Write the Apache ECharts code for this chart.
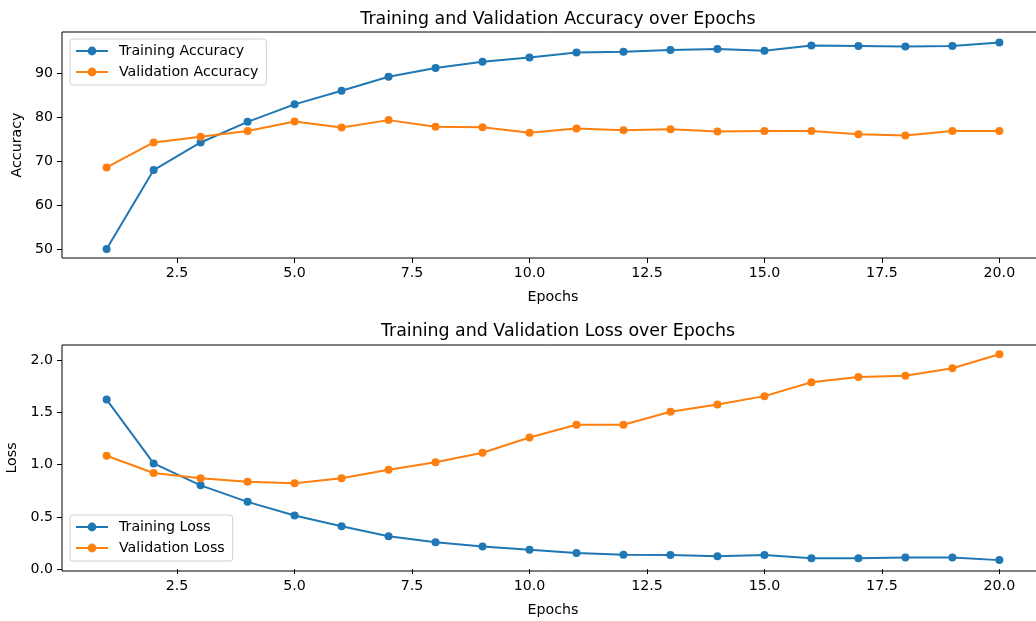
<!DOCTYPE html>
<html>
<head>
<meta charset="utf-8">
<script src="https://cdn.jsdelivr.net/npm/echarts@6/dist/echarts.min.js"></script>
<style>
html,body{margin:0;padding:0;background:#fff;}
#chart{width:1036px;height:621px;}
</style>
</head>
<body>
<div id="chart"></div>
<script>
const epochs = [1,2,3,4,5,6,7,8,9,10,11,12,13,14,15,16,17,18,19,20];
const trainAcc = [50.0,68.0,74.3,79.0,83.0,86.1,89.3,91.3,92.7,93.7,94.8,95.0,95.4,95.6,95.2,96.4,96.3,96.2,96.3,97.1];
const valAcc = [68.6,74.3,75.6,76.9,79.1,77.7,79.4,77.9,77.8,76.5,77.5,77.1,77.3,76.8,76.9,76.9,76.2,75.9,76.9,76.9];
const trainLoss = [1.621,1.011,0.801,0.643,0.512,0.410,0.315,0.258,0.216,0.185,0.153,0.137,0.134,0.124,0.135,0.105,0.105,0.112,0.112,0.086];
const valLoss = [1.084,0.919,0.868,0.836,0.820,0.868,0.951,1.021,1.113,1.259,1.380,1.380,1.504,1.574,1.654,1.787,1.838,1.850,1.921,2.054];
const xTicks = [2.5,5.0,7.5,10.0,12.5,15.0,17.5,20.0];
const accTicks = [50,60,70,80,90];
const lossTicks = [0.0,0.5,1.0,1.5,2.0];

const FONT = 'DejaVu Sans';
const FS = 14.2, TFS = 17.4;
const BLUE = '#1f77b4', ORANGE = '#ff7f0e';
const pairs = (ys) => epochs.map((e,i)=>[e, ys[i]]);

function xAxis(gi){
  return {
    type:'value', gridIndex:gi, min:0.05, max:20.95,
    name:'Epochs', nameLocation:'middle', nameGap:32,
    nameTextStyle:{fontFamily:FONT,fontSize:FS,color:'#000'},
    axisLine:{show:false},
    axisTick:{show:true,length:5,inside:false,lineStyle:{color:'#000',width:1},customValues:xTicks},
    axisLabel:{fontFamily:FONT,fontSize:FS,color:'#000',margin:8,customValues:xTicks,formatter:v=>v.toFixed(1)},
    splitLine:{show:false}
  };
}
function yAxis(gi,min,max,ticks,name,fmt,gap){
  return {
    type:'value', gridIndex:gi, min:min, max:max,
    name:name, nameLocation:'middle', nameGap:gap, nameRotate:90,
    nameTextStyle:{fontFamily:FONT,fontSize:FS,color:'#000'},
    axisLine:{show:false},
    axisTick:{show:true,length:5,inside:false,lineStyle:{color:'#000',width:1},customValues:ticks},
    axisLabel:{fontFamily:FONT,fontSize:FS,color:'#000',margin:9,customValues:ticks,formatter:fmt},
    splitLine:{show:false}
  };
}
function lineSeries(name,ys,color,gi){
  return {
    type:'line', name:name, xAxisIndex:gi, yAxisIndex:gi,
    data:pairs(ys), symbol:'circle', symbolSize:8, showSymbol:true,
    lineStyle:{color:color,width:2}, itemStyle:{color:color},
    animation:false, emphasis:{disabled:true}
  };
}
function legend(names,left,top){
  return {
    data:names, orient:'vertical', left:left, top:top,
    itemWidth:32, itemHeight:11, itemGap:7,
    backgroundColor:'rgba(255,255,255,0.8)', borderColor:'#d0d0d0', borderWidth:1, borderRadius:3,
    padding:[5,8,6,5],
    textStyle:{fontFamily:FONT,fontSize:FS,color:'#000',padding:[0,0,0,6]},
    selectedMode:false
  };
}

const chart = echarts.init(document.getElementById('chart'), null, {renderer:'canvas'});
chart.setOption({
  backgroundColor:'#fff',
  animation:false,
  title:[
    {text:'Training and Validation Accuracy over Epochs', left:553, top:6, textAlign:'center',
     textStyle:{fontFamily:FONT,fontSize:TFS,fontWeight:'normal',color:'#000'}},
    {text:'Training and Validation Loss over Epochs', left:553, top:318, textAlign:'center',
     textStyle:{fontFamily:FONT,fontSize:TFS,fontWeight:'normal',color:'#000'}}
  ],
  grid:[
    {left:62, top:32, width:982, height:226, show:true, borderColor:'#000', borderWidth:1, backgroundColor:'transparent', outerBoundsMode:'none', containLabel:false},
    {left:62, top:345, width:982, height:226, show:true, borderColor:'#000', borderWidth:1, backgroundColor:'transparent', outerBoundsMode:'none', containLabel:false}
  ],
  xAxis:[xAxis(0), xAxis(1)],
  yAxis:[
    yAxis(0,47.95,99.5,accTicks,'Accuracy',v=>String(v),38),
    yAxis(1,-0.018,2.143,lossTicks,'Loss',v=>v.toFixed(1),40)
  ],
  legend:[
    legend(['Training Accuracy','Validation Accuracy'],70,39),
    legend(['Training Loss','Validation Loss'],70,515)
  ],
  series:[
    lineSeries('Training Accuracy',trainAcc,BLUE,0),
    lineSeries('Validation Accuracy',valAcc,ORANGE,0),
    lineSeries('Training Loss',trainLoss,BLUE,1),
    lineSeries('Validation Loss',valLoss,ORANGE,1)
  ]
});
</script>
</body>
</html>
